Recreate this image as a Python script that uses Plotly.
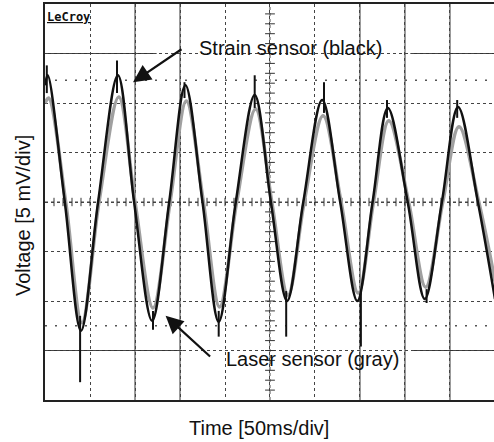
import numpy as np
import plotly.graph_objects as go

# ---- data (time in ms, voltage in mV) ----
black_t = [0, 3, 22, 40, 59, 81, 99, 119, 138, 156, 175, 193, 212, 233, 251, 269, 287, 308, 328, 347, 364, 381, 403, 422, 441, 459, 481, 500]
black_v = [11.8, 12.8, 0.0, -13.0, 0.0, 12.8, 0.0, -12.0, 0.0, 11.8, 0.0, -12.1, 0.0, 10.8, 0.0, -10.0, 0.0, 10.3, 0.0, -10.0, 0.0, 9.5, 0.0, -9.8, 0.0, 9.6, 0.0, -9.8]

gray_t = [0, 4, 23, 41, 60, 82, 100, 120, 139, 157, 176, 194, 213, 234, 252, 270, 288, 309, 329, 348, 365, 382, 404, 423, 442, 460, 482, 500]
gray_v = [10.0, 10.5, 0.0, -12.2, 0.0, 10.6, 0.0, -10.7, 0.0, 10.2, 0.0, -10.6, 0.0, 9.4, 0.0, -9.4, 0.0, 8.7, 0.0, -9.2, 0.0, 8.2, 0.0, -8.6, 0.0, 7.6, 0.0, -8.0]

# noise spikes on the black trace: time, from, to
spike_t = [2, 39, 80, 120, 155, 193, 233, 268, 310, 351, 380, 424, 458]
spike_from = [11.0, -11.5, 11.0, -11.0, 10.5, -11.0, 9.5, -9.0, 9.0, -9.0, 8.5, -8.8, 8.5]
spike_to = [13.8, -18.2, 14.3, -12.9, 12.1, -13.6, 12.8, -13.6, 12.1, -14.6, 10.3, -10.2, 10.3]

# cursor (dotted reference) levels
cursor_levels = [12.3, -12.5]

# grid divisions that print as solid lines on the scan
solid_vertical_t = [100, 150, 350, 400, 450]
solid_h_level = [15, 15, -15, -15]
solid_h_from = [0, 406, 0, 410]
solid_h_to = [124, 499, 153, 499]

x_range = [0, 498.9]
y_range = [-20, 20]

fig = go.Figure()

# cursor rows of dots
for lv in cursor_levels:
    fig.add_trace(go.Scatter(x=x_range, y=[lv, lv], mode="lines",
                             line=dict(color="#555555", width=1.5, dash="2px,8px"),
                             hoverinfo="skip", showlegend=False))

# centre cross-hair with small ticks
fig.add_trace(go.Scatter(x=x_range, y=[0, 0], mode="lines",
                         line=dict(color="#444444", width=1, dash="dot"),
                         hoverinfo="skip", showlegend=False))
fig.add_trace(go.Scatter(x=[250, 250], y=y_range, mode="lines",
                         line=dict(color="#444444", width=1, dash="dot"),
                         hoverinfo="skip", showlegend=False))
htick = np.arange(10, 500, 10)
fig.add_trace(go.Scatter(x=htick, y=[0] * len(htick), mode="markers",
                         marker=dict(symbol="line-ns", size=6, line=dict(color="#333333", width=1)),
                         hoverinfo="skip", showlegend=False))
vtick = np.arange(-19, 20, 1)
fig.add_trace(go.Scatter(x=[250] * len(vtick), y=vtick, mode="markers",
                         marker=dict(symbol="line-ew", size=7, line=dict(color="#333333", width=1)),
                         hoverinfo="skip", showlegend=False))

# gray (laser) trace
fig.add_trace(go.Scatter(x=gray_t, y=gray_v, mode="lines",
                         line=dict(color="#a0a0a0", width=3.5, shape="spline", smoothing=1.0),
                         hoverinfo="skip", showlegend=False))
# black (strain) trace
fig.add_trace(go.Scatter(x=black_t, y=black_v, mode="lines",
                         line=dict(color="#111111", width=2.5, shape="spline", smoothing=1.0),
                         hoverinfo="skip", showlegend=False))
# spikes
sx, sy = [], []
for t, a, b in zip(spike_t, spike_from, spike_to):
    sx += [t, t, None]
    sy += [a, b, None]
fig.add_trace(go.Scatter(x=sx, y=sy, mode="lines",
                         line=dict(color="#111111", width=2),
                         hoverinfo="skip", showlegend=False))

shapes = []
for t in solid_vertical_t:
    shapes.append(dict(type="line", xref="x", yref="y", x0=t, x1=t, y0=y_range[0], y1=y_range[1],
                       line=dict(color="#333333", width=1), layer="below"))
for lv, a, b in zip(solid_h_level, solid_h_from, solid_h_to):
    shapes.append(dict(type="line", xref="x", yref="y", x0=a, x1=b, y0=lv, y1=lv,
                       line=dict(color="#333333", width=1), layer="below"))

font = "Liberation Sans, Arial, sans-serif"
annotations = [
    dict(x=97.8, y=12.1, xref="x", yref="y", text="", showarrow=True,
         ax=50, ay=-34, arrowhead=2, arrowsize=1.6, arrowwidth=2.2, arrowcolor="#111111"),
    dict(x=134.0, y=-11.5, xref="x", yref="y", text="", showarrow=True,
         ax=46, ay=42, arrowhead=2, arrowsize=1.6, arrowwidth=2.2, arrowcolor="#111111"),
    dict(x=168.9, y=15.6, xref="x", yref="y", text="Strain sensor (black)", showarrow=False,
         xanchor="left", yanchor="middle", font=dict(family=font, size=20, color="#111111")),
    dict(x=199.0, y=-15.9, xref="x", yref="y", text="Laser sensor (gray)", showarrow=False,
         xanchor="left", yanchor="middle", font=dict(family=font, size=20, color="#111111")),
    dict(x=0.5, y=18.7, xref="x", yref="y", text="<b><u>LeCroy</u></b>", showarrow=False,
         xanchor="left", yanchor="middle", font=dict(family="DejaVu Sans Mono", size=12, color="#111111")),
    dict(x=(259 - 45) / 449, y=(400 - 428) / 396, xref="paper", yref="paper",
         text="Time [50ms/div]", showarrow=False, xanchor="center", yanchor="middle",
         font=dict(family=font, size=20, color="#111111")),
    dict(x=(23 - 45) / 449, y=(400 - 216) / 396, xref="paper", yref="paper",
         text="Voltage [5 mV/div]", showarrow=False, textangle=-90, xanchor="center", yanchor="middle",
         font=dict(family=font, size=20, color="#111111")),
]

fig.update_layout(
    width=494, height=442,
    margin=dict(l=45, r=0, t=4, b=42),
    paper_bgcolor="white", plot_bgcolor="white",
    annotations=annotations,
    shapes=shapes,
    xaxis=dict(range=x_range, tick0=0, dtick=50, showgrid=True, gridcolor="#444444",
               griddash="dot", gridwidth=1, showticklabels=False, ticks="", zeroline=False,
               showline=True, linecolor="#222222", linewidth=1.5, mirror=True, fixedrange=True),
    yaxis=dict(range=y_range, tick0=0, dtick=5, showgrid=True, gridcolor="#444444",
               griddash="dot", gridwidth=1, showticklabels=False, ticks="", zeroline=False,
               showline=True, linecolor="#222222", linewidth=1.5, mirror=False, fixedrange=True),
)

fig.write_html("out.html")
